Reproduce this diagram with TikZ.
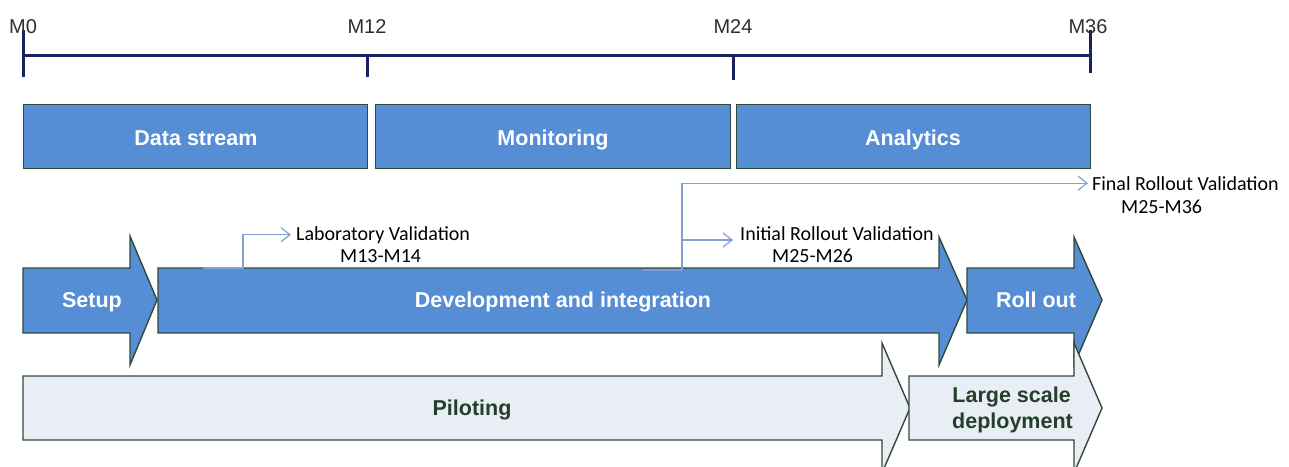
\documentclass[tikz,border=0pt]{standalone}
\usepackage{fontspec}
\setmainfont{Liberation Sans}
\newfontfamily\annfont{Carlito}
\usetikzlibrary{arrows.meta}

\definecolor{barblue}{HTML}{558ED5}
\definecolor{edgegreen}{HTML}{2F4A3A}
\definecolor{palefill}{HTML}{E9EDF4}
\definecolor{navy}{HTML}{17235E}
\definecolor{linkblue}{HTML}{7FA2D0}
\definecolor{darktext}{HTML}{243F2C}
\definecolor{monthgrey}{HTML}{2E2E2E}

\begin{document}
\begin{tikzpicture}[x=1pt,y=-1pt,
  phase/.style={draw=edgegreen, line width=1.4pt, fill=barblue},
  pale/.style={draw=edgegreen, line width=1.4pt, fill=palefill},
  phasebox/.style={phase, anchor=north west, minimum height=64pt, inner sep=0pt},
  whitelabel/.style={text=white, font=\fontsize{21.5}{24}\selectfont\bfseries, inner sep=0pt, anchor=base},
  darklabel/.style={text=darktext, font=\fontsize{21.5}{24}\selectfont\bfseries, inner sep=0pt},
  tickline/.style={draw=navy, line width=3pt},
  monthlabel/.style={text=monthgrey, font=\fontsize{20}{22}\selectfont, inner sep=0pt, anchor=base},
  note/.style={font=\annfont\fontsize{20}{22}\selectfont, inner sep=0pt, anchor=base west, text=black},
  link/.style={draw=linkblue, line width=1.2pt},
  linkarrow/.style={link, -{Straight Barb[length=9pt,width=14pt]}}
]
\useasboundingbox (0,0) rectangle (1289,466);
\clip (0,0) rectangle (1289,466);

% ---- time axis ----
\coordinate (t0)  at (23,55);
\coordinate (t12) at (367,55);
\coordinate (t24) at (733,55);
\coordinate (t36) at (1090,55);
\draw[tickline] (t0) -- (t36);
\draw[tickline] (t0)  ++(0,-25) -- ++(0,47);
\draw[tickline] (t12) -- ++(0,22);
\draw[tickline] (t24) -- ++(0,25);
\draw[tickline] (t36) ++(0,-25) -- ++(0,43);
\node[monthlabel] (m0)  at (23,33)   {M0};
\node[monthlabel] (m12) at (367,33)  {M12};
\node[monthlabel] (m24) at (733,33)  {M24};
\node[monthlabel] (m36) at (1088,33) {M36};

% ---- work streams ----
\node[phasebox, minimum width=344pt] (data) at (23,104)  {};
\node[phasebox, minimum width=355pt] (mon)  at (375,104) {};
\node[phasebox, minimum width=354pt] (ana)  at (736,104) {};
\node[whitelabel] (datat) at (196,145) {Data stream};
\node[whitelabel] (mont)  at (553,145) {Monitoring};
\node[whitelabel] (anat)  at (913,145) {Analytics};

% ---- project phases ----
\draw[phase] (158,268) -- (939,268) -- (939,237) -- (967,300) -- (939,365)
             -- (939,333) -- (158,333) -- cycle;
\draw[phase] (23,268) -- (130,268) -- (130,236) -- (157,300) -- (130,365)
             -- (130,333) -- (23,333) -- cycle;
\draw[phase] (967,268) -- (1074,268) -- (1074,237) -- (1102,300) -- (1074,365)
             -- (1074,333) -- (967,333) -- cycle;
\node[whitelabel] (setup) at (92,307)   {Setup};
\node[whitelabel] (dev)   at (563,307)  {Development and integration};
\node[whitelabel] (roll)  at (1036,307) {Roll out};

% ---- deployment phases ----
\draw[pale] (23,376) -- (882,376) -- (882,343) -- (910,408) -- (882,473)
            -- (882,440) -- (23,440) -- cycle;
\draw[pale] (909,376) -- (1074,376) -- (1074,343) -- (1102,408) -- (1074,473)
            -- (1074,440) -- (909,440) -- cycle;
\node[darklabel, anchor=base] (pilot) at (472,415) {Piloting};
\node[darklabel, anchor=base east] (large) at (1071,402) {Large scale};
\node[darklabel, anchor=base east] (deploy) at (1073,428) {deployment};

% ---- validation milestones ----
\node[note] (lab)  at (296,240)  {Laboratory Validation};
\node[note] (labm) at (340,262)  {M13-M14};
\node[note] (ini)  at (740,240)  {Initial Rollout Validation};
\node[note] (inim) at (772,262)  {M25-M26};
\node[note] (fin)  at (1092,190) {Final Rollout Validation};
\node[note] (finm) at (1121,213) {M25-M36};

\coordinate (labstart) at (203,268);
\coordinate (labbend)  at (243,268);
\draw[linkarrow] (labstart) -- (labbend) |- ([xshift=-5pt]lab.west);

\coordinate (rollstart) at (643,270);
\coordinate (rolltrunk) at (682,270);
\draw[link] (rollstart) -- (rolltrunk);
\draw[linkarrow] (rolltrunk) |- ([xshift=-4pt]fin.west);
\draw[linkarrow] (rolltrunk |- ini.base west) -- ([xshift=-7pt]ini.base west);
\end{tikzpicture}
\end{document}
